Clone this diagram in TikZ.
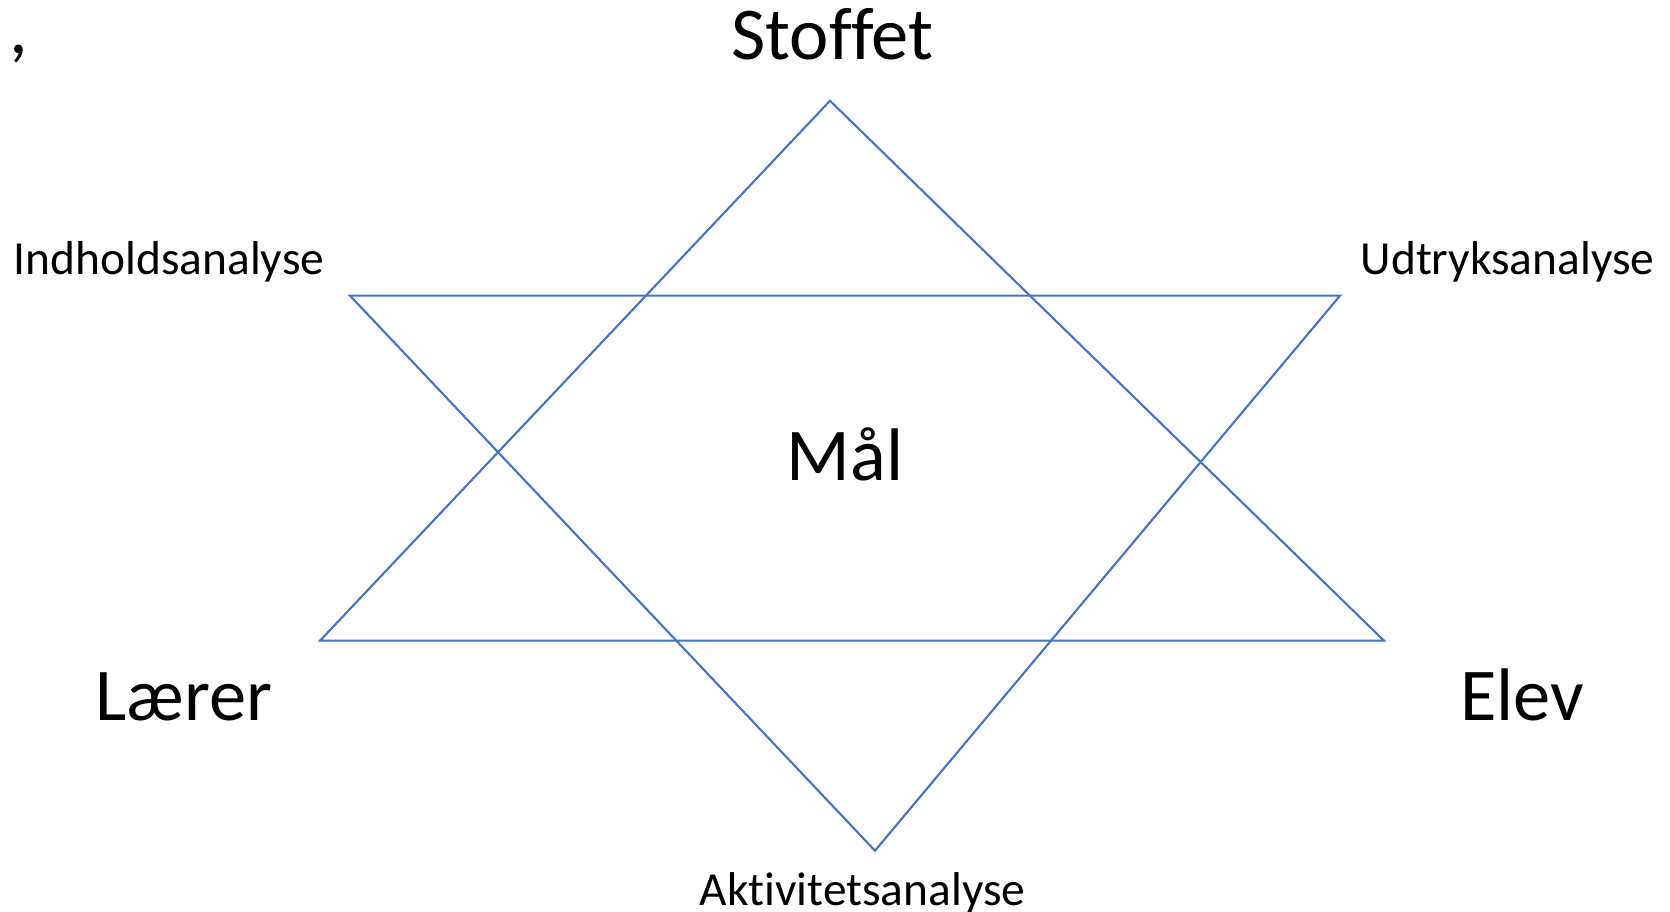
\documentclass[tikz,border=0pt]{standalone}
\usepackage{fontspec}
\setmainfont[Ligatures=NoCommon]{Carlito}
\definecolor{starblue}{RGB}{68,114,196}

\begin{document}
\begin{tikzpicture}[
		edge/.style={draw=starblue, line width=0.6pt, line join=miter},
		bigword/.style={anchor=base, inner sep=0pt, font=\fontsize{21.2}{25}\selectfont},
		smallword/.style={anchor=base, inner sep=0pt, font=\fontsize{13.5}{16}\selectfont},
	]
		\useasboundingbox (0,0) rectangle (16.70,9.12);

		% upright triangle
		\coordinate (top) at (8.30,8.112);
		\coordinate (botleft) at (3.20,2.713);
		\coordinate (botright) at (13.84,2.713);
		% inverted triangle
		\coordinate (upleft) at (3.50,6.163);
		\coordinate (upright) at (13.40,6.163);
		\coordinate (bottom) at (8.75,0.613);

		\draw[edge] (top) -- (botright) -- (botleft) -- cycle;
		\draw[edge] (upleft) -- (upright) -- (bottom) -- cycle;

		\node[bigword] (comma) at (0.19,8.58) {,};
		\node[bigword] (stoffet) at (8.325,8.52) {Stoffet};
		\node[bigword] (maal) at (8.45,4.31) {Mål};
		\node[bigword] (laerer) at (1.84,1.91) {Lærer};
		\node[bigword] (elev) at (15.22,1.91) {Elev};

		\node[smallword] (indhold) at (1.69,6.37) {Indholdsanalyse};
		\node[smallword] (udtryk) at (15.075,6.37) {Udtryksanalyse};
		\node[smallword] (aktivitet) at (8.625,0.06) {Aktivitetsanalyse};
	\end{tikzpicture}
\end{document}
